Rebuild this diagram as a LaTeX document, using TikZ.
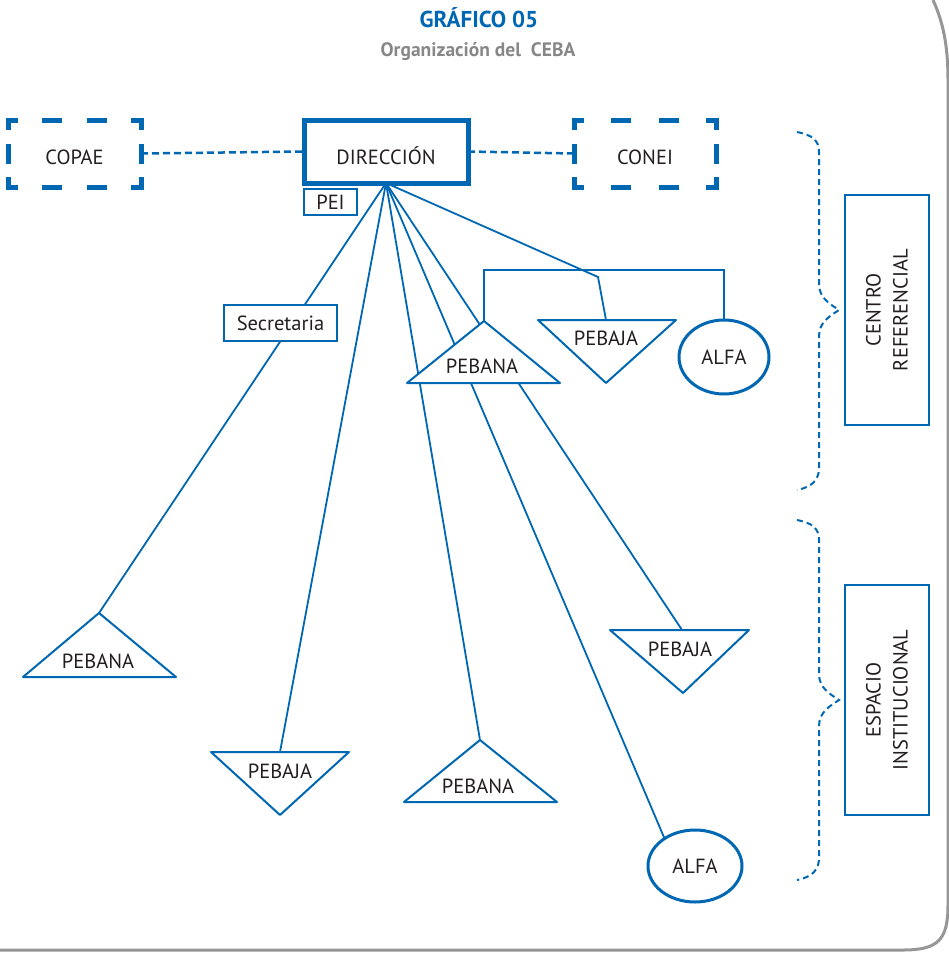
\documentclass[tikz,border=0pt]{standalone}
\usepackage{fontspec}
\setmainfont{PT Sans}
\usepackage{tkz-euclide}
\usetikzlibrary{shapes.geometric,backgrounds}
\definecolor{cebaazul}{RGB}{0,103,178}
\definecolor{cebagris}{RGB}{150,150,150}
\definecolor{cebatexto}{RGB}{35,31,32}

\begin{document}
\begin{tikzpicture}[
        x=1pt,y=-1pt,
        font=\fontsize{20.5}{24}\selectfont,
        caja/.style={draw=cebaazul,fill=white,text=cebatexto,inner sep=0pt,outer sep=0pt},
        hueca/.style={inner sep=0pt,outer sep=0pt,text=cebatexto,minimum height=67pt,text height=21pt,text depth=0pt},
        rayaH/.style={draw=cebaazul,line width=5pt,line cap=rect,dash pattern=on 15pt off #1,dash phase=7.5pt},
        rayaV/.style={draw=cebaazul,line width=5pt,line cap=rect,dash pattern=on 15pt off 18.5pt,dash phase=7.5pt},
        punteado/.style={draw=cebaazul,line width=2.5pt,dash pattern=on 7pt off 4pt},
        linea/.style={draw=cebaazul,line width=1.8pt},
        tri/.style={draw=cebaazul,fill=white,line width=2pt},
        elipse/.style={ellipse,draw=cebaazul,fill=white,line width=3pt,text=cebatexto,inner sep=0pt,outer sep=0pt},
        rotulo/.style={text=cebatexto,inner sep=0pt},
        llave/.style={draw=cebaazul,line width=2pt,dash pattern=on 6pt off 4pt},
        marco/.style={draw=cebagris,line width=3pt}]
        % marco
        \useasboundingbox (0,0) rectangle (949,954);
        \draw[marco] (933,0) .. controls (943,22) and (948,45) .. (948,80) -- (948,905)
          .. controls (948,940) and (938,950) .. (903,950) -- (0,950);
        % titulos
        \node[font=\fontsize{23}{27}\selectfont\bfseries,text=cebaazul] (titulo) at (479,18) {GRÁFICO 05};
        \node[font=\fontsize{19.5}{23}\selectfont\bfseries,text=cebagris!90!black] (subtitulo) at (478,52) {Organización del~ CEBA};
        % cajas de arriba
        \node[caja,line width=5pt,minimum width=164pt,minimum height=63pt,text height=25pt,text depth=0pt] (dir) at (386,151.5) {DIRECCIÓN};
        \node[hueca,minimum width=133pt] (copae) at (74.5,153.5) {COPAE};
        \node[hueca,minimum width=142pt] (conei) at (645,153.5) {CONEI};
        \draw[rayaH=29.3pt] (copae.north west) -- (copae.north east) (copae.south west) -- (copae.south east);
        \draw[rayaV] (copae.north west) -- (copae.south west) (copae.north east) -- (copae.south east);
        \draw[rayaH=32.3pt] (conei.north west) -- (conei.north east) (conei.south west) -- (conei.south east);
        \draw[rayaV] (conei.north west) -- (conei.south west) (conei.north east) -- (conei.south east);
        \draw[punteado] (copae.east) -- (dir.west);
        \draw[punteado] (dir.east) -- (conei.east -| 574,0);
        \node[caja,line width=2pt,minimum width=53pt,minimum height=26pt] (pei) at (330.5,202) {PEI};
        \node[caja,line width=2.8pt,minimum width=113pt,minimum height=36pt] (secre) at (280.5,323) {Secretaria};
        % puntos de los triangulos
        \tkzDefPoints{484/321/pbnTa, 407/383/pbnTb, 560/383/pbnTc}
        \tkzDefPoints{538/320/pbjTa, 676/320/pbjTb, 606/383/pbjTc, 606/320/pbjTm}
        \tkzDefPoints{99/613/pbnIa, 23/677/pbnIb, 176/677/pbnIc}
        \tkzDefPoints{211/752/pbjIa, 349/752/pbjIb, 280/815/pbjIc, 280/752/pbjIm}
        \tkzDefPoints{480/740/pbnDa, 404/802/pbnDb, 557/802/pbnDc}
        \tkzDefPoints{610/630/pbjDa, 749/630/pbjDb, 683/693/pbjDc, 682/630/pbjDm}
        \tkzDefPoints{598/277/codo, 484/270/junta}
        % triangulos
        \tkzDrawPolygon[tri](pbnTa,pbnTb,pbnTc)
        \tkzDrawPolygon[tri](pbjTa,pbjTb,pbjTc)
        \tkzDrawPolygon[tri](pbnIa,pbnIb,pbnIc)
        \tkzDrawPolygon[tri](pbjIa,pbjIb,pbjIc)
        \tkzDrawPolygon[tri](pbnDa,pbnDb,pbnDc)
        \tkzDrawPolygon[tri](pbjDa,pbjDb,pbjDc)
        \node[rotulo] (pbnT) at (482,366) {PEBANA};
        \node[rotulo] (pbjT) at (606,338) {PEBAJA};
        \node[rotulo] (pbnI) at (98,661) {PEBANA};
        \node[rotulo] (pbjI) at (280,771) {PEBAJA};
        \node[rotulo] (pbnD) at (478,786) {PEBANA};
        \node[rotulo] (pbjD) at (680,649) {PEBAJA};
        % elipses
        \node[elipse,minimum width=90pt,minimum height=74pt] (alfaT) at (724,357) {ALFA};
        \node[elipse,minimum width=94pt,minimum height=72pt] (alfaB) at (695,866) {ALFA};
        % lineas desde la direccion
        \begin{pgfonlayer}{background}
          \draw[linea] (dir.south) -- (pbnIa);
          \draw[linea] (dir.south) -- (pbjIm);
          \draw[linea] (dir.south) -- (pbnDa);
          \draw[linea] (dir.south) -- (alfaB.138);
          \draw[linea] (dir.south) -- (pbjDm);
          \draw[linea] (dir.south) -- (codo) -- (pbjTm);
          \draw[linea] (pbnTa) -- (junta) -| (alfaT.north);
        \end{pgfonlayer}
        % llaves y cajas de la derecha
        \draw[llave] (797,132) .. controls (812,135) and (819,140) .. (819,152) -- (819,284)
          .. controls (819,298) and (830,304) .. (839,310) .. controls (830,316) and (819,322) .. (819,336)
          -- (819,468) .. controls (819,480) and (812,487) .. (797,490);
        \draw[llave] (797,520) .. controls (812,523) and (819,528) .. (819,540) -- (819,674)
          .. controls (819,688) and (830,694) .. (839,700) .. controls (830,706) and (819,712) .. (819,726)
          -- (819,858) .. controls (819,870) and (812,877) .. (797,880);
        \node[caja,line width=2.5pt,rotate=90,minimum width=230pt,minimum height=84pt,align=center,
          font=\fontsize{20.5}{27}\selectfont] (centro) at (887,310) {CENTRO\\REFERENCIAL};
        \node[caja,line width=2.5pt,rotate=90,minimum width=230pt,minimum height=84pt,align=center,
          font=\fontsize{20.5}{27}\selectfont] (espacio) at (887,700) {ESPACIO\\INSTITUCIONAL};
      \end{tikzpicture}
\end{document}
